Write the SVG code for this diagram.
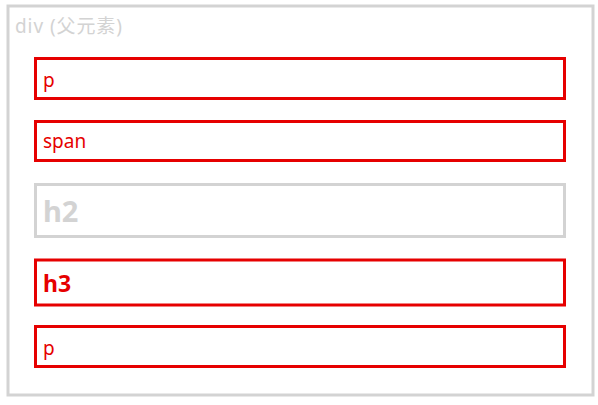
<svg xmlns="http://www.w3.org/2000/svg" width="598" height="405" viewBox="0 0 598 405">
<style>
.outer{fill:#fff;stroke:#d3d3d3;stroke-width:3}
.box{fill:none;stroke:#e60000;stroke-width:3}
.gbox{fill:none;stroke:#d3d3d3;stroke-width:3}
text{font-family:"Noto Sans","Noto Sans CJK SC",sans-serif}
.red{fill:#e60000;font-size:19px}
.grey{fill:#d3d3d3}
</style>
<rect x="0" y="0" width="598" height="405" fill="#fff"/>
<g id="div">
<rect class="outer" x="8" y="6" width="585" height="389"/>
<text class="grey" x="15" y="33" font-size="19" textLength="107" lengthAdjust="spacing">div (父元素)</text>
</g>
<g id="p1">
<rect class="box" x="35.5" y="58.5" width="529" height="40"/>
<text class="red" x="43" y="87">p</text>
</g>
<g id="span">
<rect class="box" x="35.5" y="121.5" width="529" height="39"/>
<text class="red" x="43" y="148">span</text>
</g>
<g id="h2">
<rect class="gbox" x="35.5" y="184.5" width="529" height="52"/>
<text class="grey" x="43" y="222" font-size="29" font-weight="bold">h2</text>
</g>
<g id="h3">
<rect class="box" x="35.5" y="260" width="529" height="45"/>
<text x="43" y="292" font-size="23" font-weight="bold" fill="#e60000">h3</text>
</g>
<g id="p2">
<rect class="box" x="35.5" y="326.5" width="529" height="40"/>
<text class="red" x="43" y="355">p</text>
</g>
<g id="connectors"/>
</svg>
